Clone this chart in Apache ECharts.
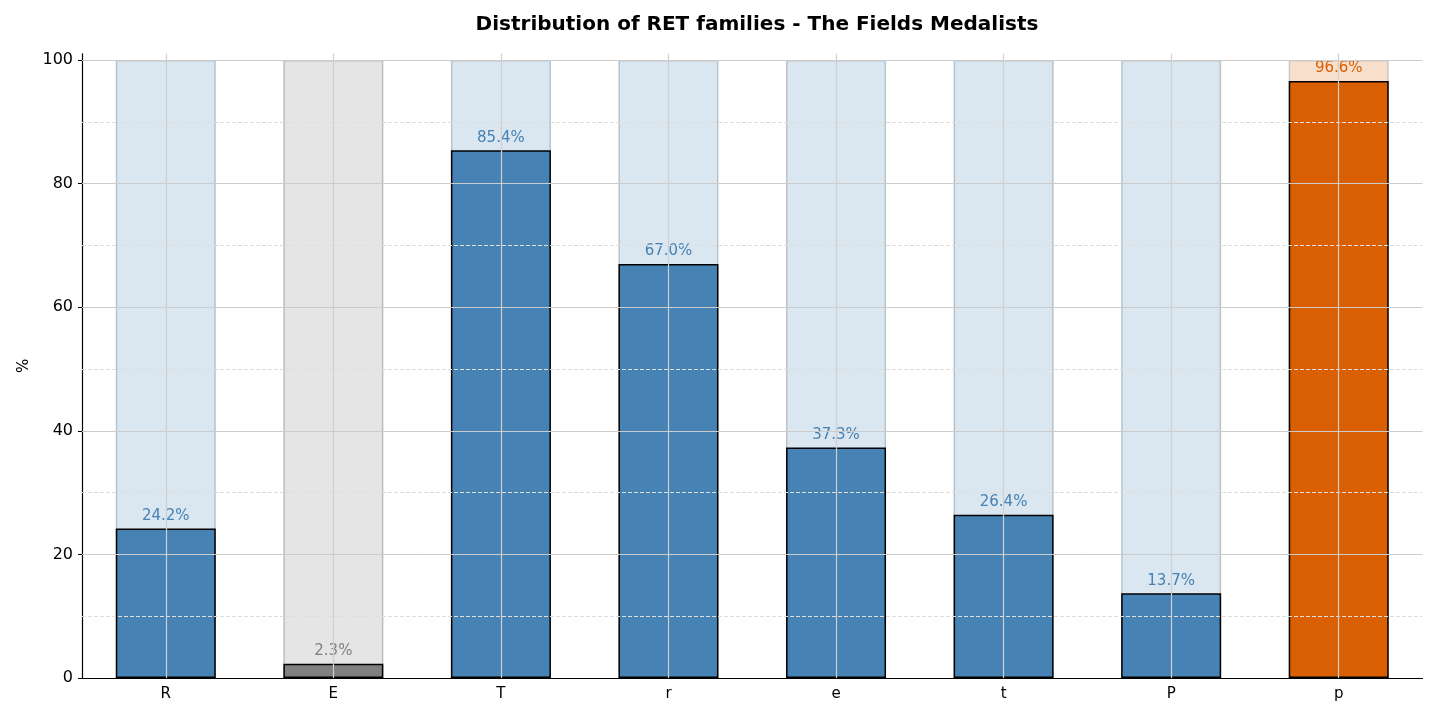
<!DOCTYPE html>
<html>
<head>
<meta charset="utf-8">
<script src="https://cdn.jsdelivr.net/npm/echarts@6/dist/echarts.min.js"></script>
<style>
html,body{margin:0;padding:0;background:#fff;}
#chart{width:1437px;height:719px;}
</style>
</head>
<body>
<div id="chart"></div>
<script>
// ---- data ----
const categories = ['R', 'E', 'T', 'r', 'e', 't', 'P', 'p'];
const percentages = [24.2, 2.3, 85.4, 67.0, 37.3, 26.4, 13.7, 96.6];
const fullScale = [100, 100, 100, 100, 100, 100, 100, 100];
const yTicks = [0, 20, 40, 60, 80, 100];
const majorGrid = [20, 40, 60, 80, 100];
const minorGrid = [10, 30, 50, 70, 90];
const titleText = 'Distribution of RET families - The Fields Medalists';
const yName = '%';

// ---- styles ----
const palette = {
  normal: { fg: '#4682b4', bg: '#dae6f0', bd: '#b9c3cc' },
  muted:  { fg: '#808080', bg: '#e5e5e5', bd: '#bdbdbd' },
  accent: { fg: '#d95f02', bg: '#f8dfcb', bd: '#cfc5bd' }
};
const styleOf = { 'E': 'muted', 'p': 'accent' };
function pal(i) { return palette[styleOf[categories[i]] || 'normal']; }

const font = 'DejaVu Sans';
const chart = echarts.init(document.getElementById('chart'), null, { renderer: 'canvas' });

const bgData = fullScale.map((v, i) => ({
  value: v,
  itemStyle: { color: pal(i).bg, borderColor: pal(i).bd, borderWidth: 1.5 }
}));
const fgData = percentages.map((v, i) => ({
  value: v,
  itemStyle: { color: pal(i).fg, borderColor: '#000', borderWidth: 1.5 },
  label: { color: pal(i).fg }
}));

const gridLines = [];
majorGrid.forEach(v => gridLines.push({ yAxis: v, lineStyle: { color: '#cccccc', width: 1, type: 'solid' } }));
minorGrid.forEach(v => gridLines.push({ yAxis: v, lineStyle: { color: '#dedede', width: 1, type: [4, 2] } }));
categories.forEach(c => gridLines.push({ xAxis: c, lineStyle: { color: '#cfcfcf', width: 1.2, type: 'solid' } }));

chart.setOption({
  animation: false,
  backgroundColor: '#fff',
  textStyle: { fontFamily: font },
  title: {
    text: titleText,
    left: 752, top: 10, textAlign: 'center',
    textStyle: { fontFamily: font, fontWeight: 'bold', fontSize: 20, color: '#000' }
  },
  grid: { left: 82, right: 14.5, top: 53.8, bottom: 41, containLabel: false },
  xAxis: {
    type: 'category',
    data: categories,
    axisLine: { lineStyle: { color: '#000', width: 1.2 } },
    axisTick: { alignWithLabel: true, length: 4, lineStyle: { color: '#000' } },
    axisLabel: { fontFamily: font, fontSize: 15, color: '#000', margin: 9 },
    splitLine: { show: false }
  },
  yAxis: {
    type: 'value',
    min: 0, max: 101,
    name: yName,
    nameLocation: 'middle',
    nameGap: 47,
    nameRotate: 90,
    nameTextStyle: { fontFamily: font, fontSize: 15, color: '#000' },
    axisLine: { show: true, lineStyle: { color: '#000', width: 1.2 } },
    axisTick: { show: true, length: 4, customValues: yTicks, lineStyle: { color: '#000' } },
    axisLabel: { fontFamily: font, fontSize: 16, color: '#000', margin: 9, customValues: yTicks },
    splitLine: { show: false }
  },
  series: [
    {
      type: 'bar', name: 'full', data: bgData, barWidth: 100, barGap: '-100%', z: 1, silent: true
    },
    {
      type: 'bar', name: 'share', data: fgData, barWidth: 100, z: 2,
      label: {
        show: true, position: 'top', distance: 5,
        fontFamily: font, fontSize: 15,
        formatter: p => p.value.toFixed(1) + '%'
      }
    },
    {
      type: 'line', name: 'grid', data: [], z: 10, silent: true,
      markLine: { silent: true, symbol: 'none', label: { show: false }, data: gridLines, animation: false }
    }
  ]
});
</script>
</body>
</html>
